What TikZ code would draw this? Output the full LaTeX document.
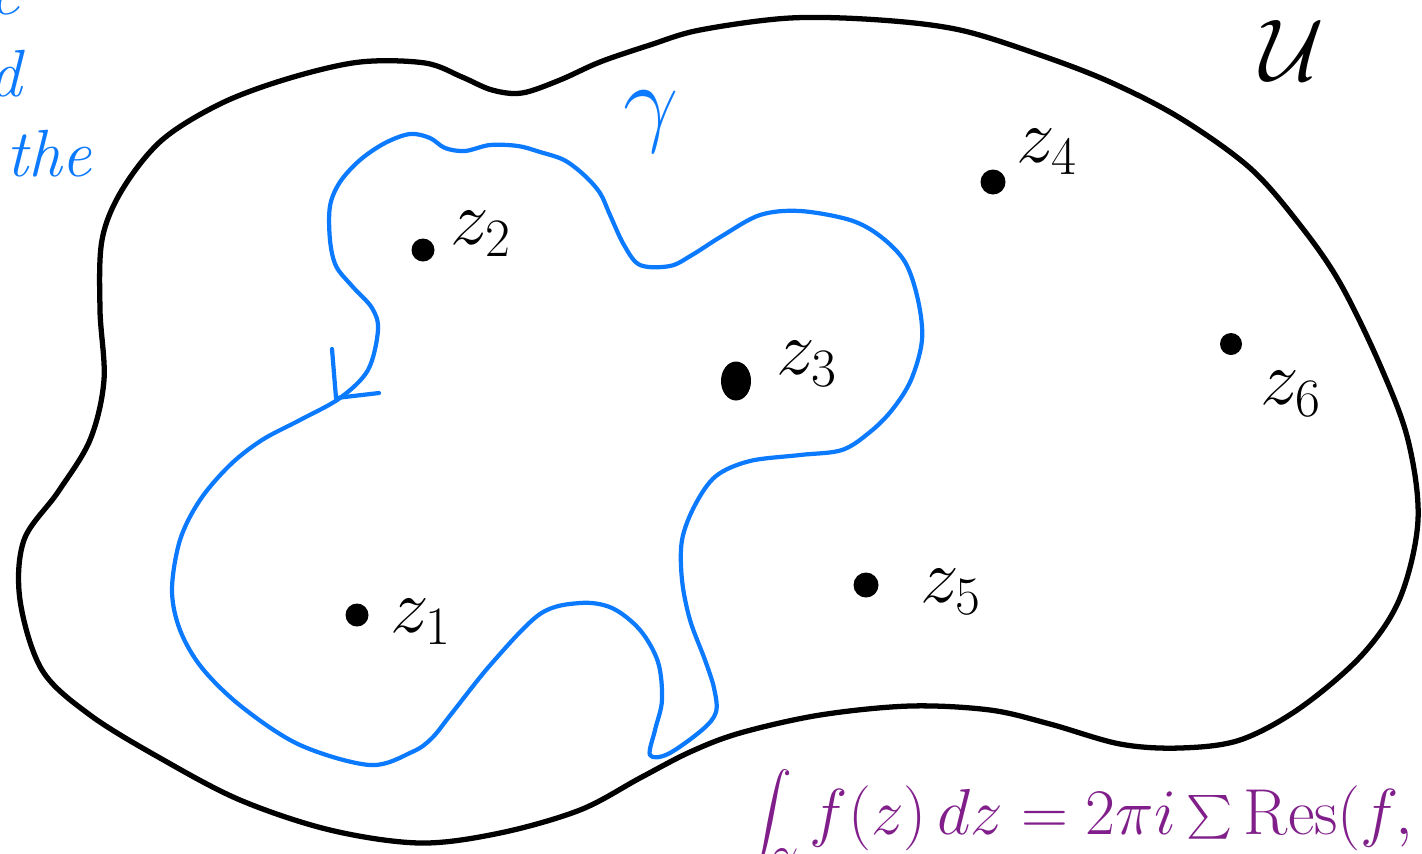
\RequirePackage{fix-cm}
\documentclass[tikz,border=0pt]{standalone}
\usepackage{amsmath}
\usetikzlibrary{shapes.geometric}
\definecolor{penblue}{RGB}{12,122,255}
\definecolor{penpurple}{RGB}{128,30,138}
\tikzset{
  region/.style={draw=black, line width=3pt, line join=round},
  contour/.style={draw=penblue, line width=2.4pt, line join=round, line cap=round},
  pole/.style={circle, fill=black, inner sep=0pt, minimum size=0.46cm},
  lbl/.style={font=\fontsize{44}{52}\selectfont, text=black, inner sep=0pt},
  bluetext/.style={font=\fontsize{38}{46}\selectfont\itshape, text=penblue, inner sep=0pt},
  formula/.style={font=\fontsize{37}{44}\selectfont, text=penpurple, inner sep=0pt}
}
\begin{document}
\begin{tikzpicture}[x=0.02cm, y=-0.02cm]
\useasboundingbox (0,0) rectangle (1422,853);
\clip (0,0) rectangle (1422,853);
% outer region U
\draw[region] plot[smooth cycle, tension=0.55] coordinates {
 (522,93) (560,80) (600,62) (650,45) (700,30) (790,18) (880,20) (960,30) (1040,55)
 (1110,82) (1180,118) (1250,168) (1300,225) (1340,283) (1380,365) (1408,440)
 (1418,520) (1400,598) (1362,655) (1300,708) (1240,740) (1180,748) (1120,744)
 (1050,724) (990,710) (910,706) (820,715) (740,733) (690,752) (640,778) (580,810)
 (500,833) (420,843) (330,830) (240,800) (160,758) (90,715) (42,670) (20,600)
 (24,540) (58,492) (90,440) (104,380) (100,310) (102,240) (122,190) (162,140)
 (222,103) (290,78) (360,62) (425,63) (462,77) (492,90)};
% contour gamma
\draw[contour] plot[smooth cycle, tension=0.55] coordinates {
 (378,330) (368,370) (340,398) (300,420) (262,440) (230,465) (200,500) (180,540)
 (172,590) (180,630) (202,668) (242,707) (300,745) (370,765) (412,752) (432,738)
 (452,713) (492,663) (540,614) (580,603) (612,608) (640,630) (658,662) (662,700)
 (655,730) (650,755) (668,754) (702,730) (716,712) (714,688) (705,660) (690,620)
 (682,580) (682,540) (695,505) (716,476) (750,461) (800,455) (842,450) (870,432)
 (892,410) (911,380) (922,340) (918,300) (905,262) (880,236) (850,220) (800,211)
 (760,215) (722,236) (692,255) (670,266) (640,265) (624,245) (610,215) (600,193)
 (584,175) (564,160) (540,152) (518,146) (490,145) (465,151) (445,148) (430,138)
 (410,134) (385,143) (360,160) (340,182) (330,206) (330,240) (336,266) (352,286) (372,308)};
% arrowhead on gamma
\coordinate (tip) at (336,398);
\coordinate (armA) at (332,349);
\coordinate (armB) at (379,393);
\draw[contour] (armA) -- (tip) -- (armB);
% poles
\node[pole] (p1) at (357,615) {};
\node[pole] (p2) at (423,250) {};
\node[ellipse, fill=black, inner sep=0pt, minimum width=0.6cm, minimum height=0.78cm] (p3) at (736,381) {};
\node[pole, minimum size=0.5cm] (p4) at (993,182) {};
\node[pole, minimum size=0.5cm] (p5) at (866,585) {};
\node[pole, minimum size=0.44cm] (p6) at (1231,344) {};
% labels
\node[lbl, anchor=west] (l1) at (390,622) {$z_1$};
\node[lbl, anchor=west] (l2) at (450,234) {$z_2$};
\node[lbl, anchor=west] (l3) at (776,364) {$z_3$};
\node[lbl, anchor=west] (l4) at (1016,152) {$z_4$};
\node[lbl, anchor=west] (l5) at (920,592) {$z_5$};
\node[lbl, anchor=west] (l6) at (1260,394) {$z_6$};
\node[lbl, font=\fontsize{50}{60}\selectfont] (U) at (1292,50) {$\mathcal{U}$};
\node[inner sep=0pt, text=penblue, font=\fontsize{56}{66}\selectfont] (gam) at (651,122) {$\gamma$};
% clipped margin words
\node[bluetext, anchor=base west] (the) at (6,176) {the};
\node[bluetext, anchor=base east] (wd) at (22,96) {d};
\node[bluetext, anchor=base east] (we) at (20,14) {e};
% formula
\node[formula, anchor=base west] (eq) at (748,834)
 {$\displaystyle\int_\gamma f(z)\,dz = 2\pi i \textstyle\sum \mathrm{Res}(f, z_i)$};
\end{tikzpicture}
\end{document}
